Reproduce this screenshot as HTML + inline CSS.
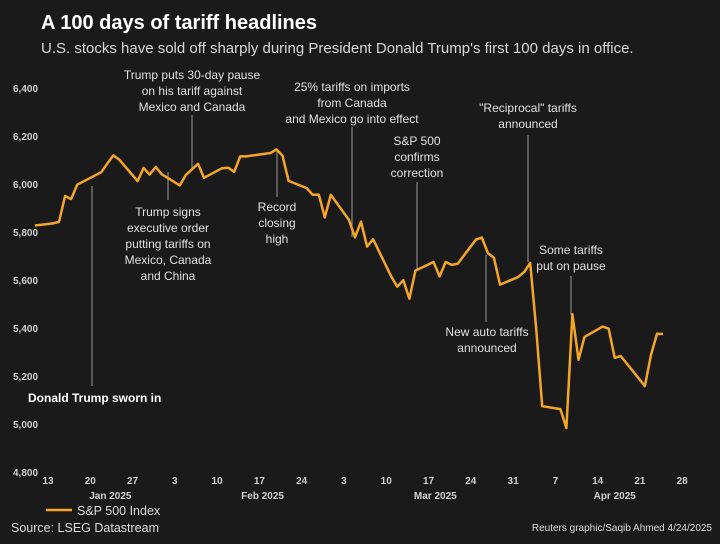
<!DOCTYPE html>
<html><head><meta charset="utf-8">
<style>
html,body{margin:0;padding:0;background:#1a1a1a;}
svg{display:block;font-family:"Liberation Sans",sans-serif;}
</style></head>
<body>
<svg id="chart" width="720" height="544" viewBox="0 0 720 544">
<rect width="720" height="544" fill="#1a1a1a"/>
<text x="41" y="29" font-size="20" font-weight="bold" fill="#ffffff">A 100 days of tariff headlines</text>
<text x="41" y="53" font-size="15" fill="#d8d8d8">U.S. stocks have sold off sharply during President Donald Trump's first 100 days in office.</text>
<g id="yaxis"></g>
<g id="xaxis"></g>
<g id="annots"></g>
<g id="series"></g>
<g>
<line x1="46" y1="510" x2="72" y2="510" stroke="#f5a623" stroke-width="2.5"/>
<text x="77" y="515" font-size="12.5" fill="#dddddd">S&amp;P 500 Index</text>
</g>
<text x="11" y="532" font-size="12.5" fill="#dddddd">Source: LSEG Datastream</text>
<text x="712" y="531" font-size="10" text-anchor="end" fill="#dddddd">Reuters graphic/Saqib Ahmed 4/24/2025</text>
</svg>
<script>
// days since Jan 13, 2025
const days = [-3,0,1,2,3,4,8,9,10,11,14,15,16,17,18,21,22,23,24,25,28,29,30,31,32,36,37,38,39,42,43,44,45,46,49,50,51,52,53,56,57,58,59,60,63,64,65,66,67,70,71,72,73,74,77,78,79,80,81,84,85,86,87,88,91,92,93,94,98,99,100,101];
const values = [5827,5836,5842,5950,5937,5997,6049,6086,6119,6101,6012,6067,6039,6071,6041,5994,6038,6061,6084,6026,6066,6068,6051,6115,6115,6129,6144,6118,6013,5983,5955,5956,5861,5955,5850,5778,5843,5739,5770,5615,5572,5599,5522,5639,5675,5615,5675,5663,5668,5768,5777,5712,5693,5581,5612,5633,5671,5397,5074,5062,4983,5457,5268,5363,5406,5397,5276,5283,5158,5288,5376,5375];
const yTicks = [4800,5000,5200,5400,5600,5800,6000,6200,6400];
const xTickDays = [0,7,14,21,28,35,42,49,56,63,70,77,84,91,98,105];
const xTickLabels = ["13","20","27","3","10","17","24","3","10","17","24","31","7","14","21","28"];
const monthLabels = ["Jan 2025","Feb 2025","Mar 2025","Apr 2025"];
const monthDays = [9.5,34.7,63.3,93];

const NS="http://www.w3.org/2000/svg";
function xS(d){return 53+d*6.04;}
function yS(v){return 184+(6000-v)*0.24;}
function mk(tag,attrs,parent,txt){const e=document.createElementNS(NS,tag);for(const k in attrs)e.setAttribute(k,attrs[k]);if(txt!==undefined)e.textContent=txt;parent.appendChild(e);return e;}

const ya=document.getElementById('yaxis');
yTicks.forEach(v=>{
  const t=mk('text',{x:13,y:yS(v)+4,'font-size':10,'font-weight':'bold',fill:'#cfcfcf'},ya,v.toLocaleString('en-US'));
  
  
});
const xa=document.getElementById('xaxis');
xTickDays.forEach((d,i)=>{
  const t=mk('text',{x:xS(d)-5,y:484,'font-size':10,'font-weight':'bold','text-anchor':'middle',fill:'#cfcfcf'},xa,xTickLabels[i]);
  
  
});
monthDays.forEach((d,i)=>{
  const t=mk('text',{x:xS(d),y:499,'font-size':10,'font-weight':'bold','text-anchor':'middle',fill:'#cfcfcf'},xa,monthLabels[i]);
  
  
});

const an=document.getElementById('annots');
const notes=[
 {lines:["Trump puts 30-day pause","on his tariff against","Mexico and Canada"],x:192,y:79,lx:192,l1:115,l2:168},
 {lines:["Trump signs","executive order","putting tariffs on","Mexico, Canada","and China"],x:168,y:216,lx:168,l1:172,l2:200},
 {lines:["Record","closing","high"],x:277,y:211,lx:277,l1:149,l2:197},
 {lines:["25% tariffs on imports","from Canada","and Mexico go into effect"],x:352,y:91,lx:352,l1:127,l2:237},
 {lines:["S&P 500","confirms","correction"],x:417,y:145,lx:417,l1:182,l2:270},
 {lines:["New auto tariffs","announced"],x:487,y:336,lx:486,l1:255,l2:322},
 {lines:["\u0022Reciprocal\u0022 tariffs","announced"],x:528,y:112,lx:528,l1:135,l2:262},
 {lines:["Some tariffs","put on pause"],x:571,y:254,lx:571,l1:276,l2:315}
];
notes.forEach(n=>{
  const l=mk('line',{x1:n.lx,x2:n.lx,y1:n.l1,y2:n.l2,stroke:'#9a9a9a','stroke-width':1},an);
  
  
  const t=mk('text',{x:n.x,y:n.y,'font-size':12,'text-anchor':'middle',fill:'#e0e0e0'},an);
  
  
  n.lines.forEach((s,i)=>{mk('tspan',{x:n.x,dy:i?16:0},t,s);});
});
const sl=mk('line',{x1:92,x2:92,y1:186,y2:386,stroke:'#9a9a9a','stroke-width':1},an);


const st=mk('text',{x:28,y:402,'font-size':12,'font-weight':'bold',fill:'#ffffff'},an,'Donald Trump sworn in');



const se=document.getElementById('series');
const pts=days.map((d,i)=>xS(d).toFixed(1)+','+yS(values[i]).toFixed(1)).join(' ');
const pl=mk('polyline',{points:pts,fill:'none',stroke:'#f5a623','stroke-width':2.5,'stroke-linejoin':'round'},se);


</script>
</body></html>
